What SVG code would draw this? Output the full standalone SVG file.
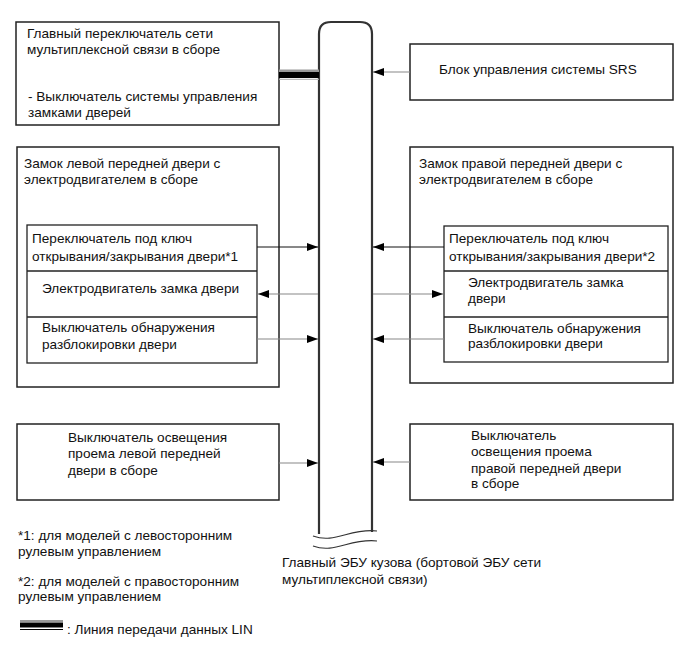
<svg xmlns="http://www.w3.org/2000/svg" width="691" height="660" viewBox="0 0 691 660">
<style>
.box{fill:#fff;stroke:#222;stroke-width:1.5}
.in{fill:none;stroke:#222;stroke-width:1.3}
.ecu{fill:none;stroke:#333;stroke-width:2.2}
.t{font-family:"Liberation Sans",Arial,sans-serif;font-size:13.6px;fill:#111}
.a{stroke:#111;stroke-width:1;fill:none;marker-end:url(#ah)}
.g{stroke:#888;stroke-width:1.2;fill:none;marker-end:url(#ah)}
</style>
<defs>
<marker id="ah" viewBox="0 0 11 8" refX="11" refY="4" markerWidth="11" markerHeight="8" markerUnits="userSpaceOnUse" orient="auto">
<path d="M0,0 L11,4 L0,8 z" fill="#000"/>
</marker>
</defs>
<rect width="691" height="660" fill="#fff"/>

<g id="ecu">
<path class="ecu" d="M319,534 L319,34 Q319,22 331,22 L360,22 Q372,22 372,34 L372,532"/>
<path d="M313,536 C335,544 350,528 377,531" fill="none" stroke="#333" stroke-width="1.2"/>
<path d="M313,546 C335,554 350,538 377,541" fill="none" stroke="#333" stroke-width="1.2"/>
<text class="t" x="282" y="567">Главный ЭБУ кузова (бортовой ЭБУ сети</text>
<text class="t" x="282" y="584">мультиплексной связи)</text>
</g>

<g id="multiplex-switch">
<rect class="box" x="16" y="22" width="263" height="103"/>
<text class="t" x="27" y="38">Главный переключатель сети</text>
<text class="t" x="27" y="54">мультиплексной связи в сборе</text>
<text class="t" x="28" y="101">- Выключатель системы управления</text>
<text class="t" x="28" y="117">замками дверей</text>
</g>

<g id="srs">
<rect class="box" x="410" y="44" width="263" height="56"/>
<text class="t" x="439" y="74">Блок управления системы SRS</text>
</g>

<g id="left-door">
<rect class="box" x="17" y="147" width="262" height="240"/>
<text class="t" x="24" y="168">Замок левой передней двери с</text>
<text class="t" x="24" y="184">электродвигателем в сборе</text>
<rect class="in" x="27" y="225" width="230" height="138"/>
<line class="in" x1="27" y1="271" x2="257" y2="271"/>
<line class="in" x1="27" y1="317" x2="257" y2="317"/>
<text class="t" x="32" y="243">Переключатель под ключ</text>
<text class="t" x="32" y="261">открывания/закрывания двери*1</text>
<text class="t" x="42" y="293">Электродвигатель замка двери</text>
<text class="t" x="42" y="332">Выключатель обнаружения</text>
<text class="t" x="42" y="349">разблокировки двери</text>
</g>

<g id="right-door">
<rect class="box" x="410" y="147" width="263" height="236"/>
<text class="t" x="419" y="168">Замок правой передней двери с</text>
<text class="t" x="419" y="184">электродвигателем в сборе</text>
<rect class="in" x="444" y="226" width="224" height="136"/>
<line class="in" x1="444" y1="271" x2="668" y2="271"/>
<line class="in" x1="444" y1="317" x2="668" y2="317"/>
<text class="t" x="449" y="243">Переключатель под ключ</text>
<text class="t" x="449" y="261">открывания/закрывания двери*2</text>
<text class="t" x="468" y="287">Электродвигатель замка</text>
<text class="t" x="468" y="303">двери</text>
<text class="t" x="468" y="333">Выключатель обнаружения</text>
<text class="t" x="468" y="348">разблокировки двери</text>
</g>

<g id="left-courtesy">
<rect class="box" x="17" y="424" width="262" height="76"/>
<text class="t" x="68" y="442">Выключатель освещения</text>
<text class="t" x="68" y="458">проема левой передней</text>
<text class="t" x="68" y="475">двери в сборе</text>
</g>

<g id="right-courtesy">
<rect class="box" x="410" y="424" width="263" height="76"/>
<text class="t" x="471" y="440">Выключатель</text>
<text class="t" x="471" y="456">освещения проема</text>
<text class="t" x="471" y="473">правой передней двери</text>
<text class="t" x="471" y="488">в сборе</text>
</g>

<g id="connectors">
<rect x="279" y="69.5" width="40" height="2.5" fill="#999"/>
<rect x="279" y="72" width="40" height="6" fill="#000"/>
<line x1="279" y1="79.3" x2="319" y2="79.3" stroke="#aaa" stroke-width="1"/>
<line class="g" x1="410" y1="72" x2="373" y2="72"/>
<line class="a" x1="257" y1="247" x2="318" y2="247"/>
<line class="g" x1="318" y1="294" x2="258" y2="294"/>
<line class="g" x1="257" y1="339" x2="318" y2="339"/>
<line class="a" x1="444" y1="247" x2="373" y2="247"/>
<line class="g" x1="373" y1="294" x2="443" y2="294"/>
<line class="g" x1="444" y1="339" x2="373" y2="339"/>
<line class="g" x1="279" y1="463" x2="318" y2="463"/>
<line class="g" x1="410" y1="462" x2="373" y2="462"/>
</g>

<g id="legend">
<text class="t" x="18" y="540">*1: для моделей с левосторонним</text>
<text class="t" x="18" y="556">рулевым управлением</text>
<text class="t" x="18" y="586">*2: для моделей с правосторонним</text>
<text class="t" x="18" y="601">рулевым управлением</text>
<rect x="20" y="620" width="43" height="2" fill="#999"/>
<rect x="20" y="622.5" width="43" height="5" fill="#000"/>
<line x1="20" y1="629.5" x2="63" y2="629.5" stroke="#000" stroke-width="1"/>
<text class="t" x="67" y="634">: Линия передачи данных LIN</text>
</g>
</svg>
